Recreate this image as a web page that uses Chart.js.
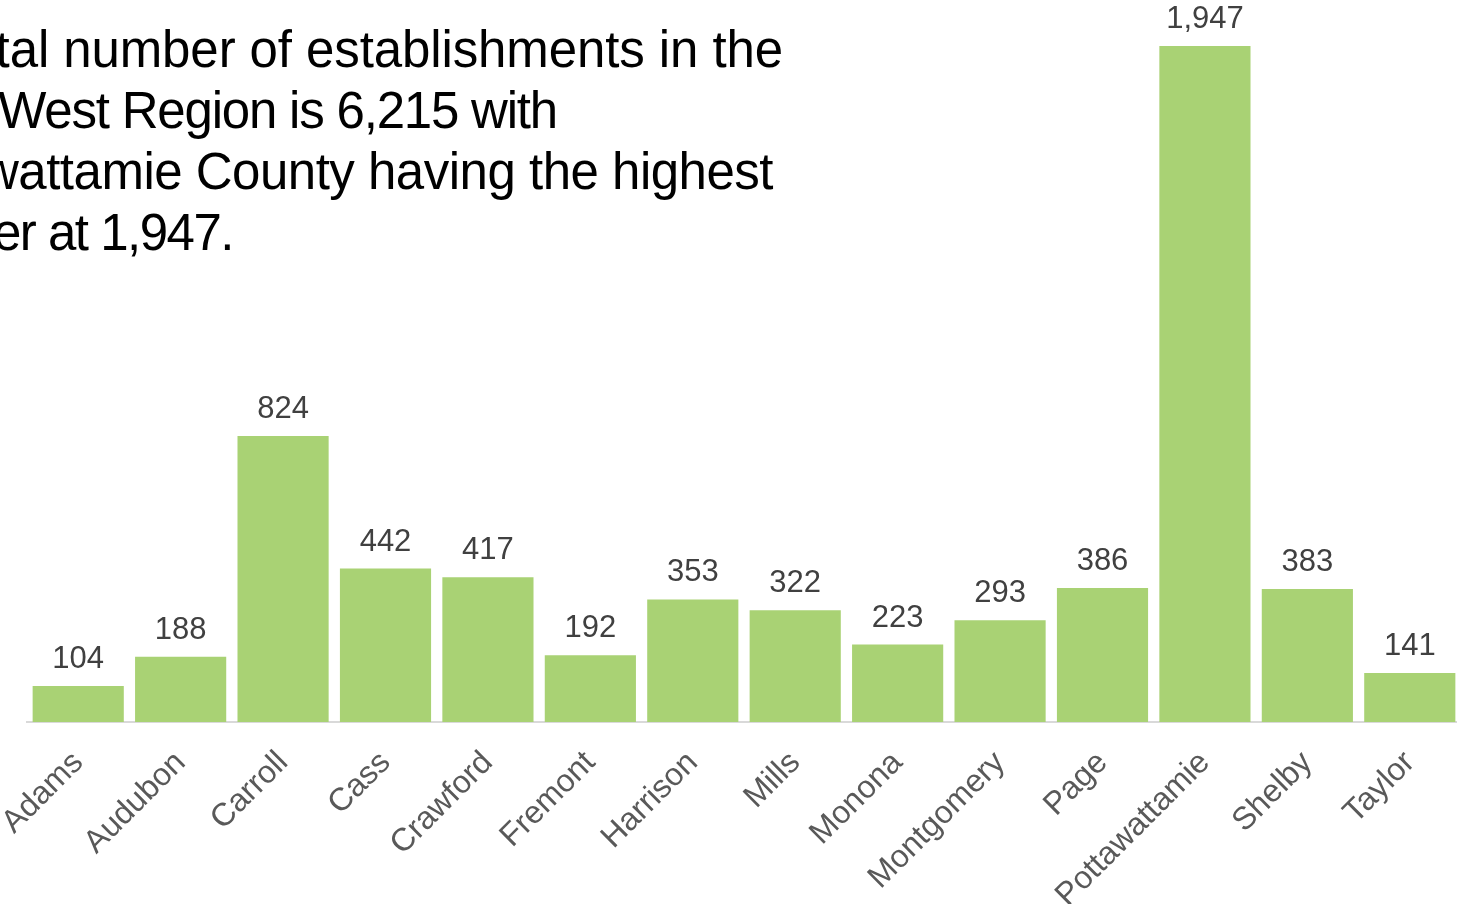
<!DOCTYPE html>
<html>
<head>
<meta charset="utf-8">
<script src="https://cdn.jsdelivr.net/npm/chart.js@4/dist/chart.umd.min.js"></script>
<style>
  html, body { margin: 0; padding: 0; background: #ffffff; overflow: hidden; width: 1457px; height: 904px; position: relative; }
  #wrap { position: absolute; left: 0; top: 0; width: 1462px; height: 904px; }
  .note { position: absolute; font-family: "Liberation Sans", Arial, sans-serif; font-size: 51px; color: #000000; white-space: nowrap; line-height: 61px; text-align: right; }
</style>
</head>
<body>
<div id="wrap"><canvas id="c"></canvas></div>
<div class="note" style="right:674px; top:19px; letter-spacing:-0.1px;">The total number of establishments in the</div>
<div class="note" style="right:900px; top:80px; letter-spacing:-1.2px;">South West Region is 6,215 with</div>
<div class="note" style="right:684px; top:141px; letter-spacing:-0.5px;">Pottawattamie County having the highest</div>
<div class="note" style="right:1224px; top:202px; letter-spacing:-1.5px;">number at 1,947.</div>
<script>
const counties = ["Adams","Audubon","Carroll","Cass","Crawford","Fremont","Harrison","Mills","Monona","Montgomery","Page","Pottawattamie","Shelby","Taylor"];
const establishments = [104,188,824,442,417,192,353,322,223,293,386,1947,383,141];

const valueLabels = {
  id: 'valueLabels',
  afterDatasetsDraw(chart) {
    const ctx = chart.ctx;
    const meta = chart.getDatasetMeta(0);
    ctx.save();
    ctx.font = '31px "Liberation Sans", Arial, sans-serif';
    ctx.fillStyle = '#404040';
    ctx.textAlign = 'center';
    ctx.textBaseline = 'alphabetic';
    meta.data.forEach((bar, i) => {
      ctx.fillText(establishments[i].toLocaleString('en-US'), bar.x, bar.y - 18);
    });
    ctx.restore();
  }
};

new Chart(document.getElementById('c'), {
  type: 'bar',
  data: {
    labels: counties,
    datasets: [{
      data: establishments,
      backgroundColor: '#A9D274',
      borderWidth: 0,
      barPercentage: 0.89,
      categoryPercentage: 1.0
    }]
  },
  options: {
    responsive: true,
    maintainAspectRatio: false,
    animation: false,
    layout: { padding: { top: 46, left: 27, right: 1, bottom: 0 } },
    plugins: { legend: { display: false }, tooltip: { enabled: false } },
    scales: {
      y: { display: false, min: 0, max: 1947 },
      x: {
        grid: { display: false, drawTicks: false },
        border: { display: true, color: '#D9D9D9', width: 2 },
        ticks: {
          color: '#595959',
          font: { family: '"Liberation Sans", Arial, sans-serif', size: 32 },
          minRotation: 45,
          maxRotation: 45,
          padding: 22,
          autoSkip: false
        },
        afterFit(scale) {
          scale.height = 182;
          scale.paddingLeft = 0;
          scale.paddingRight = 0;
        }
      }
    }
  },
  plugins: [valueLabels]
});
</script>
</body>
</html>
